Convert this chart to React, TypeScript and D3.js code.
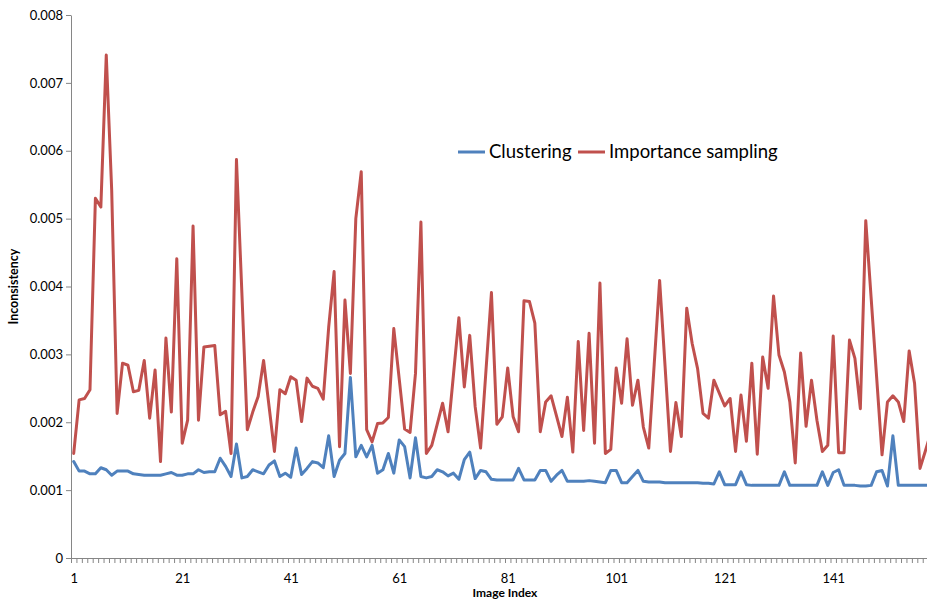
import React, {useEffect, useRef} from 'react'
import * as d3 from 'd3'

// values, one per image index (1..159)
const clustering = [
    0.00142, 0.00128, 0.00128, 0.00124, 0.00124, 0.00133, 0.00130, 0.00122, 0.00128, 0.00128,
    0.00128, 0.00124, 0.00123, 0.00122, 0.00122, 0.00122, 0.00122, 0.00124, 0.00126, 0.00122,
    0.00122, 0.00124, 0.00124, 0.00130, 0.00126, 0.00127, 0.00127, 0.00147, 0.00135, 0.00120,
    0.00168, 0.00118, 0.00120, 0.00130, 0.00127, 0.00124, 0.00137, 0.00143, 0.00120, 0.00125,
    0.00119, 0.00162, 0.00123, 0.00132, 0.00142, 0.00140, 0.00133, 0.00180, 0.00120, 0.00144,
    0.00154, 0.00266, 0.00149, 0.00166, 0.00149, 0.00166, 0.00125, 0.00130, 0.00154, 0.00125,
    0.00174, 0.00164, 0.00118, 0.00177, 0.00120, 0.00118, 0.00120, 0.00130, 0.00127, 0.00121,
    0.00125, 0.00116, 0.00145, 0.00156, 0.00117, 0.00129, 0.00127, 0.00116, 0.00115, 0.00115,
    0.00115, 0.00115, 0.00132, 0.00115, 0.00115, 0.00115, 0.00129, 0.00129, 0.00113, 0.00122,
    0.00129, 0.00113, 0.00113, 0.00113, 0.00113, 0.00114, 0.00113, 0.00112, 0.00111, 0.00129,
    0.00129, 0.00111, 0.00111, 0.00120, 0.00129, 0.00113, 0.00112, 0.00112, 0.00112, 0.00111,
    0.00111, 0.00111, 0.00111, 0.00111, 0.00111, 0.00111, 0.00110, 0.00110, 0.00109, 0.00127,
    0.00108, 0.00108, 0.00108, 0.00127, 0.00108, 0.00107, 0.00107, 0.00107, 0.00107, 0.00107,
    0.00107, 0.00127, 0.00107, 0.00107, 0.00107, 0.00107, 0.00107, 0.00107, 0.00127, 0.00107,
    0.00126, 0.00130, 0.00107, 0.00107, 0.00107, 0.00106, 0.00106, 0.00107, 0.00127, 0.00129,
    0.00106, 0.00180, 0.00107, 0.00107, 0.00107, 0.00107, 0.00107, 0.00107, 0.00107
];

const importance = [
    0.00154, 0.00233, 0.00235, 0.00248, 0.00530, 0.00517, 0.00741, 0.00542, 0.00213, 0.00287,
    0.00284, 0.00245, 0.00247, 0.00291, 0.00206, 0.00277, 0.00142, 0.00324, 0.00215, 0.00441,
    0.00169, 0.00203, 0.00489, 0.00203, 0.00311, 0.00312, 0.00313, 0.00211, 0.00216, 0.00154,
    0.00587, 0.00390, 0.00189, 0.00215, 0.00238, 0.00291, 0.00224, 0.00157, 0.00248, 0.00242,
    0.00267, 0.00262, 0.00201, 0.00265, 0.00253, 0.00250, 0.00234, 0.00340, 0.00422, 0.00164,
    0.00380, 0.00272, 0.00500, 0.00569, 0.00189, 0.00171, 0.00198, 0.00199, 0.00207, 0.00338,
    0.00264, 0.00190, 0.00185, 0.00272, 0.00495, 0.00154, 0.00166, 0.00197, 0.00228, 0.00186,
    0.00270, 0.00354, 0.00252, 0.00328, 0.00223, 0.00162, 0.00277, 0.00391, 0.00197, 0.00208,
    0.00280, 0.00208, 0.00186, 0.00379, 0.00378, 0.00346, 0.00186, 0.00230, 0.00239, 0.00209,
    0.00179, 0.00237, 0.00156, 0.00319, 0.00188, 0.00331, 0.00169, 0.00405, 0.00154, 0.00160,
    0.00280, 0.00228, 0.00323, 0.00225, 0.00262, 0.00193, 0.00162, 0.00285, 0.00409, 0.00283,
    0.00157, 0.00229, 0.00179, 0.00368, 0.00316, 0.00279, 0.00213, 0.00206, 0.00262, 0.00243,
    0.00224, 0.00235, 0.00157, 0.00240, 0.00172, 0.00287, 0.00153, 0.00296, 0.00250, 0.00386,
    0.00299, 0.00274, 0.00230, 0.00140, 0.00302, 0.00194, 0.00262, 0.00203, 0.00157, 0.00166,
    0.00327, 0.00155, 0.00155, 0.00321, 0.00294, 0.00220, 0.00497, 0.00382, 0.00267, 0.00152,
    0.00230, 0.00239, 0.00230, 0.00201, 0.00305, 0.00257, 0.00132, 0.00158, 0.00185
];

const yTicks = [0, 0.001, 0.002, 0.003, 0.004, 0.005, 0.006, 0.007, 0.008];
const xLabels = [1, 21, 41, 61, 81, 101, 121, 141];
const categoryCount = 160;

const series = [
    {name: 'Clustering', values: clustering, color: '#4f81bd'},
    {name: 'Importance sampling', values: importance, color: '#c0504d'}
];

const width = 927;
const height = 601;
const margin = ({top: 15, left: 71, bottom: 43});
const step = 5.425;
const font = 'Lato, "Open Sans", sans-serif';

export default function App() {
    const ref = useRef<SVGSVGElement>(null);

    useEffect(() => {
        const svg = d3.select(ref.current);
        svg.selectAll('*').remove();

        const x = d3.scaleLinear()
            .domain([0.5, categoryCount + 0.5])
            .range([margin.left, margin.left + categoryCount * step]);

        const y = d3.scaleLinear()
            .domain([0, 0.008])
            .range([height - margin.bottom, margin.top]);

        // y axis
        svg.append('g')
            .attr('transform', `translate(${margin.left},0)`)
            .call(d3.axisLeft(y).tickValues(yTicks).tickSize(5).tickSizeOuter(0).tickPadding(3)
                .tickFormat(d => +d === 0 ? '0' : d3.format('.3f')(+d)))
            .call(g => g.selectAll('path,line').attr('stroke', '#868686'))
            .call(g => g.selectAll('text').attr('fill', '#000').attr('font-size', 13).attr('font-family', font));

        // x axis: tick marks between categories, labels every 20
        svg.append('g')
            .attr('transform', `translate(0,${height - margin.bottom})`)
            .call(d3.axisBottom(x).tickValues(d3.range(0, categoryCount + 1).map(i => i + 0.5))
                .tickSize(5).tickSizeOuter(0).tickFormat(() => ''))
            .call(g => g.selectAll('path,line').attr('stroke', '#868686'));

        svg.append('g')
            .attr('transform', `translate(0,${height - margin.bottom})`)
            .call(d3.axisBottom(x).tickValues(xLabels).tickSize(0).tickPadding(16))
            .call(g => g.select('.domain').remove())
            .call(g => g.selectAll('text').attr('fill', '#000').attr('font-size', 13).attr('font-family', font));

        // axis titles
        svg.append('text')
            .attr('transform', `translate(15,${(margin.top + height - margin.bottom) / 2}) rotate(-90)`)
            .attr('text-anchor', 'middle')
            .attr('dominant-baseline', 'middle')
            .attr('font-family', font)
            .attr('font-weight', 'bold')
            .attr('font-size', 12.5)
            .text('Inconsistency');

        svg.append('text')
            .attr('x', (x.range()[0] + x.range()[1]) / 2)
            .attr('y', 597)
            .attr('text-anchor', 'middle')
            .attr('font-family', font)
            .attr('font-weight', 'bold')
            .attr('font-size', 12)
            .text('Image Index');

        const line = d3.line<number>()
            .x((d, i) => x(i + 1))
            .y(d => y(d));

        svg.append('g')
            .attr('fill', 'none')
            .attr('stroke-width', 3)
            .attr('stroke-linejoin', 'round')
            .attr('stroke-linecap', 'round')
            .selectAll('path')
            .data(series)
            .join('path')
            .attr('stroke', d => d.color)
            .attr('d', d => line(d.values));

        // legend
        const legend = svg.append('g')
            .attr('font-family', font)
            .attr('font-size', 18.5);
        const legendPos = [458, 578];
        series.forEach((s, i) => {
            legend.append('line')
                .attr('x1', legendPos[i]).attr('x2', legendPos[i] + 27)
                .attr('y1', 152).attr('y2', 152)
                .attr('stroke', s.color)
                .attr('stroke-width', 3);
            legend.append('text')
                .attr('x', legendPos[i] + 31)
                .attr('y', 152)
                .attr('dy', '0.35em')
                .attr('fill', '#000')
                .text(s.name);
        });
    }, []);

    return <svg ref={ref} width={width} height={height}
                style={{position: 'absolute', left: 0, top: 0, background: '#fff'}}/>;
}
